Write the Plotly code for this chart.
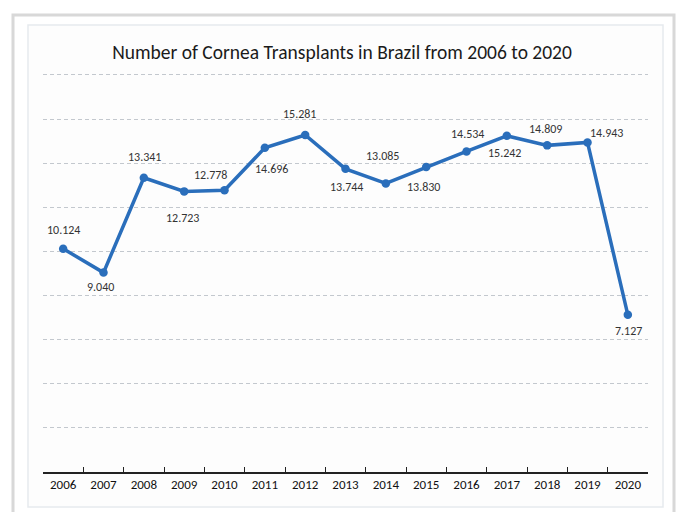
import plotly.graph_objects as go

years = ["2006", "2007", "2008", "2009", "2010", "2011", "2012", "2013",
         "2014", "2015", "2016", "2017", "2018", "2019", "2020"]
transplants = [10.124, 9.040, 13.341, 12.723, 12.778, 14.696, 15.281, 13.744,
               13.085, 13.830, 14.534, 15.242, 14.809, 14.943, 7.127]
labels = ["10.124", "9.040", "13.341", "12.723", "12.778", "14.696", "15.281", "13.744",
          "13.085", "13.830", "14.534", "15.242", "14.809", "14.943", "7.127"]

# label offsets in pixels (style only): dx right, dy up
label_dx = [0, -3, 1, -2, -14, 7, -6, 1, -3, -3, 1, -2, -2, 19, 1]
label_dy = [19, -14, 21, -27, 15, -21, 21, -18, 27, -20, 17, -17, 16, 9, -16]

FONT = "Carlito, Lato, Roboto, sans-serif"
BLUE = "#2a6ebb"

fig = go.Figure()
fig.add_trace(go.Scatter(
    x=years, y=transplants, mode="lines+markers",
    line=dict(color=BLUE, width=3.5),
    marker=dict(color=BLUE, size=8.5),
    cliponaxis=False, showlegend=False, hoverinfo="skip",
))

annotations = [
    dict(x=i, y=v, text=t, showarrow=False, xshift=dx, yshift=dy,
         xref="x", yref="y", xanchor="center", yanchor="middle",
         font=dict(family=FONT, size=12, color="#333333"))
    for i, (v, t, dx, dy) in enumerate(zip(transplants, labels, label_dx, label_dy))
]

W, H = 668, 504  # page body has an 8px margin
PH = 399  # plot height in px; range top slightly above 18 so that grid line shows
fig.update_layout(
    width=W, height=H,
    margin=dict(l=35, r=28, t=65, b=40),
    paper_bgcolor="white", plot_bgcolor="rgba(0,0,0,0)",
    title=dict(text="Number of Cornea Transplants in Brazil from 2006 to 2020",
               x=0.5, xanchor="center", y=1 - 44 / H, yanchor="middle",
               font=dict(family=FONT, size=19.5, color="#1a1a1a")),
    xaxis=dict(type="category", showline=True, linecolor="#222222", linewidth=1.5,
               ticks="inside", tickson="boundaries", ticklen=5, tickcolor="#222222",
               tickwidth=1.2, showgrid=False, zeroline=False,
               tickfont=dict(family=FONT, size=13, color="#111111"),
               range=[-0.5, 14.5]),
    yaxis=dict(range=[0, 18.09], dtick=2, showticklabels=False, showgrid=True,
               gridcolor="#c3c8ce", gridwidth=1, griddash="4px,3px",
               zeroline=False, showline=False, fixedrange=True),
    annotations=annotations,
    shapes=[
        dict(type="rect", xref="paper", yref="paper", layer="below",
             x0=-30 / 605, x1=1 + 26 / 605, y0=-60 / PH, y1=1 + 58 / PH,
             line=dict(color="#d8d8d8", width=3), fillcolor="white"),
        dict(type="rect", xref="paper", yref="paper", layer="below",
             x0=-15 / 605, x1=1 + 15 / 605, y0=-35 / PH, y1=1 + 48 / PH,
             line=dict(color="#e6eaee", width=1.5), fillcolor="#fdfdfd"),
    ],
)

fig.write_html("out.html")
